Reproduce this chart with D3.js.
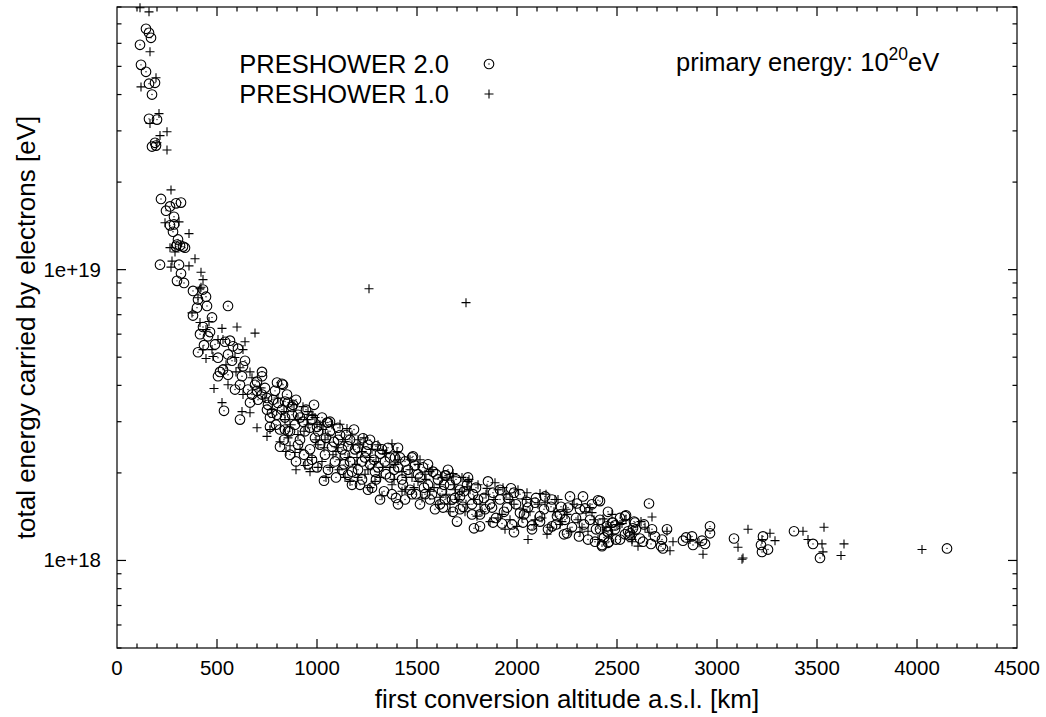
<!DOCTYPE html>
<html>
<head>
<meta charset="utf-8">
<title>PRESHOWER electrons energy</title>
<script src="https://cdn.jsdelivr.net/npm/d3@7/dist/d3.min.js"></script>
<style>
body { margin: 0; background: white; }
svg text { font-family: "Liberation Sans", Arial, sans-serif; fill: black; }
</style>
</head>
<body>
<script>
// [altitude km, energy in units of 1e18 eV]
var EV_UNIT = 1e18;

var pre2Points = [
  [145,67.3],[160,65.2],[170,62.7],[115,59.3],[120,50.6],[145,47.9],[160,43.6],[190,43.9],[175,40.0],[160,33.0],[200,32.8],
  [175,26.5],[195,26.7],[190,27.3],[220,17.5],[265,16.5],[320,17.0],[295,16.9],[245,15.95],[285,15.2],[265,14.2],[285,14.3],
  [280,13.5],[305,12.7],[295,12.0],[330,12.0],[315,12.1],[215,10.4],[310,10.4],[320,9.7],[300,9.15],[335,9.0],
  [300,12.2],[340,11.9],[380,8.45],[430,8.54],[405,7.89],[445,8.07],[400,7.4],[450,7.5],[380,6.95],[475,6.85],[555,7.5],
  [430,6.35],[455,5.9],[435,5.5],[405,5.2],[540,5.65],[565,5.7],[580,5.45],[605,5.35],[515,4.45],[505,4.3],[555,4.35],
  [530,4.53],[625,4.3],[630,4.65],[615,4.02],[725,4.45],[725,4.3],[700,4.12],[740,3.92],[800,4.09],[825,4.05],[675,3.72],
  [665,3.49],[700,3.83],[750,3.62],[780,3.57],[805,3.48],[840,3.52],[880,3.43],[875,3.37],[535,3.27],[615,3.05],[750,3.30],
  [775,3.22],[800,3.17],[840,3.1],[905,3.17],[930,3.0],[1050,2.98],[765,2.88],[815,2.82],[855,2.78],[1000,2.88],[1065,2.78],
  [1115,2.7],[1230,2.63],[830,4.02],[855,3.49],[1055,2.98],[1295,2.47],[1390,2.26],[1480,2.28],[1490,2.12],[1645,1.96],
  [1580,2.02],[1035,1.88],[955,2.14],[1000,2.09],[1175,1.82],[1105,2.6],[1155,2.47],[815,2.46],
  [890,2.93],[915,2.60],[940,2.78],[965,2.41],[990,2.64],[1015,2.50],[975,3.05],[1040,2.31],[1075,2.46],[1140,2.31],
  [1165,2.19],[1190,2.41],[1205,2.05],[1240,2.26],[1265,2.14],[1290,2.02],[1315,2.33],[1340,2.19],[1365,1.93],[1405,2.09],
  [1425,1.90],[1440,2.19],[1465,1.75],[1505,1.98],[1530,2.09],[1555,1.82],[1605,1.90],[1625,1.73],[1665,1.82],[1690,1.64],
  [1715,1.75],[1090,2.19],[1125,2.05],[1225,1.90],[1275,1.78],[1375,1.69],[1355,2.44],[865,2.31],[895,2.19],[840,2.82],
  [1255,2.50],[1415,2.26],[1155,1.97],
  [1640,1.96],[1700,1.36],[1970,1.77],[1985,1.71],[2050,1.59],[2090,1.58],[2170,1.53],[2220,1.53],[2300,1.57],[2330,1.66],
  [2405,1.61],[2340,1.51],[2480,1.35],[2540,1.42],[2590,1.35],[2455,1.25],[2390,1.16],[2425,1.12],[2455,1.15],[2250,1.24],
  [2310,1.21],[2175,1.31],[2200,1.42],[2115,1.42],[2075,1.32],[1985,1.25],[2030,1.35],[1925,1.34],[1880,1.35],[1815,1.31],
  [1785,1.29],[1775,1.44],[1840,1.50],[1730,1.53],[1680,1.47],[1630,1.52],[1715,1.66],[1780,1.69],[1880,1.71],[1915,1.62],
  [1950,1.52],[2015,1.46],[2565,1.21],[2555,1.26],[1865,1.56],[1750,1.82],[1805,1.62],[1565,1.62],[1515,1.56],[1540,1.69],
  [1590,1.50],[1640,1.62],[1475,1.69],[1440,1.62],[1405,1.56],[1315,1.62],[2140,1.66],[2240,1.38],[2365,1.38],[2415,1.28],
  [2490,1.28],[2515,1.18],[2265,1.66],
  [2415,1.60],[2660,1.57],[2545,1.43],[2585,1.36],[2475,1.35],[2450,1.31],[2490,1.32],[2450,1.26],[2540,1.23],[2565,1.24],
  [2580,1.29],[2460,1.16],[2425,1.13],[2615,1.19],[2630,1.16],[2690,1.21],[2670,1.14],[2725,1.18],[2720,1.12],[2730,1.10],
  [2750,1.28],[2830,1.17],[2845,1.20],[2875,1.21],[2880,1.13],[2925,1.17],[2940,1.14],[2965,1.31],[2965,1.24],[3085,1.19],
  [3230,1.21],[3220,1.13],[3225,1.07],[3255,1.09],[3385,1.26],[3480,1.14],[3515,1.02],[4150,1.10],
  [725,3.72],[755,3.43],[790,3.83],[825,3.30],[850,3.72],[875,3.17],[895,3.57],[915,3.10],[945,3.30],[965,2.86],
  [985,3.43],[1005,2.78],[1025,3.10],[1045,2.64],[1065,3.00],[1085,2.56],[1105,2.86],[1125,2.41],[1145,2.70],[1165,2.60],
  [1185,2.82],[1205,2.44],[1225,2.19],[1245,2.37],[1265,2.60],[1285,2.22],[1305,2.09],[1325,2.41],[1345,1.98],[1365,2.26],
  [1385,2.05],[1405,2.44],[1430,1.82],[1455,2.05],[1475,2.26],[1495,1.69],[1515,1.93],[1535,1.78],[1555,2.14],[1575,1.69],
  [1595,1.98],[1615,1.56],[1635,1.82],[1655,2.05],[1675,1.62],[1695,1.90],[1715,1.50],[1735,1.73],[1755,1.93],[1775,1.56],
  [1795,1.78],[1815,1.44],[1835,1.64],[1855,1.87],[1875,1.52],[1895,1.40],[1915,1.75],[1935,1.47],[1955,1.64],[1975,1.33],
  [1995,1.56],[2015,1.69],[2035,1.44],[2055,1.52],[2075,1.28],[2095,1.64],[2115,1.36],[2135,1.50],[2155,1.28],[2175,1.62],
  [2195,1.33],[2215,1.44],[2235,1.23],[2255,1.52],[2275,1.30],[2295,1.40],[2315,1.50],[2335,1.33],[2355,1.18],[2375,1.56],
  [2395,1.28],[2415,1.38],[2435,1.20],[2455,1.47],[2495,1.18],[2515,1.40],[2595,1.28],[2635,1.33],[2675,1.28],
  [765,3.10],[795,2.93],[835,2.60],[865,2.78],[905,2.50],[935,2.31],[975,2.22],[1055,2.05],[1095,1.93],[1135,2.14],
  [1175,2.02],[1215,1.82],[1255,1.75],[1295,1.90],[1335,1.73],[1395,1.64],[690,4.02],[705,3.57],[655,3.87],[640,4.86],
  [590,3.87],[575,4.86],[555,5.11],[490,5.53],[465,6.1],[415,6.0],[505,4.98]
];

var pre1Points = [
  [115,79.5],[160,77.0],[165,56.1],[195,45.7],[120,42.5],[210,34.4],[165,31.8],[250,29.8],[215,28.9],[200,27.3],[250,25.8],
  [270,18.8],[240,14.5],[310,14.6],[360,13.3],[265,11.9],[390,10.9],[270,10.2],[360,10.3],[420,9.8],[430,9.24],[420,8.7],
  [290,11.5],[275,10.7],[415,8.6],[405,8.0],[1260,8.6],[375,7.1],[415,6.58],[460,6.63],[525,6.28],[600,6.35],[690,6.05],
  [530,5.75],[640,5.65],[430,5.31],[475,5.31],[445,4.95],[480,5.03],[590,4.99],[630,5.31],[615,4.6],[665,4.45],[485,3.9],
  [630,3.72],[525,3.49],[665,3.22],[625,3.25],[700,2.86],[930,3.38],[975,3.17],[950,3.05],[990,3.10],[750,2.67],[1150,2.84],
  [1000,2.94],[1030,2.82],[1745,7.7],[955,3.25],[980,3.15],[1115,2.94],[1375,2.52],[1330,2.39],[865,2.48],[890,2.35],
  [940,2.12],[1110,2.05],[1575,2.05],[1680,1.94],[1725,1.93],[1755,1.87],[1750,1.79],
  [840,3.05],[905,2.71],[1005,2.50],[1040,2.60],[1080,2.31],[1105,2.44],[1175,2.50],[1200,2.26],[1225,2.37],[1265,2.26],
  [1305,2.50],[1330,2.09],[1390,2.14],[1425,2.02],[1465,2.22],[1505,1.87],[1540,1.98],[1615,1.82],[1650,1.92],[1690,1.75],
  [1065,2.09],[1140,1.93],[1240,1.98],[1290,1.87],[1375,1.82],[1440,1.75],[1475,1.93],[1565,1.73],[915,2.41],[975,2.26],
  [1025,2.19],[855,2.64],[1205,2.60],[1400,2.37],[1515,2.22],
  [1680,1.99],[1760,1.90],[1890,1.85],[1850,1.77],[1930,1.78],[2115,1.70],[2190,1.62],[2140,1.58],[2365,1.52],[2375,1.46],
  [2430,1.39],[2515,1.33],[2575,1.18],[2150,1.23],[2315,1.25],[2355,1.26],[2000,1.31],[1800,1.42],[2030,1.50],[2250,1.44],
  [1965,1.62],[1815,1.56],[1740,1.47],[1905,1.40],[2090,1.38],[2215,1.33],[2405,1.33],[2475,1.44],[2050,1.71],[1665,1.56],
  [1615,1.65],[2055,1.18],[1940,1.28],
  [2500,1.33],[2525,1.34],[2620,1.36],[2675,1.41],[2575,1.16],[2605,1.12],[2660,1.25],[2750,1.26],[2765,1.08],[2780,1.16],
  [2865,1.18],[2910,1.15],[2930,1.05],[3105,1.11],[3130,1.02],[3125,1.01],[3155,1.28],[3265,1.24],[3290,1.17],[3225,1.18],
  [3430,1.26],[3535,1.30],[3455,1.18],[3525,1.14],[3530,1.07],[3635,1.14],[3620,1.04],[4025,1.09],
  [740,3.62],[775,3.30],[805,3.62],[835,3.25],[865,2.93],[885,3.43],[905,3.05],[935,2.78],[955,2.93],[995,2.60],
  [1015,2.93],[1035,2.44],[1055,2.70],[1075,2.93],[1095,2.37],[1135,2.56],[1155,2.26],[1175,2.70],[1195,2.14],[1215,2.50],
  [1235,2.64],[1255,2.05],[1275,2.41],[1295,2.19],[1315,1.93],[1345,2.33],[1365,2.09],[1385,1.90],[1405,2.22],[1425,1.73],
  [1445,1.93],[1465,2.05],[1485,1.78],[1505,2.14],[1525,1.64],[1545,1.90],[1565,2.02],[1585,1.78],[1605,1.56],[1625,1.93],
  [1645,1.69],[1665,1.47],[1685,1.82],[1705,1.62],[1725,1.73],[1745,1.56],[1765,1.75],[1785,1.62],[1805,1.82],[1825,1.47],
  [1845,1.69],[1865,1.36],[1885,1.62],[1905,1.75],[1925,1.44],[1945,1.69],[1965,1.38],[1985,1.56],[2005,1.75],[2025,1.40],
  [2045,1.62],[2065,1.47],[2085,1.33],[2105,1.56],[2125,1.40],[2145,1.69],[2165,1.30],[2185,1.47],[2205,1.62],[2225,1.36],
  [2245,1.50],[2265,1.26],[2285,1.56],[2305,1.38],[2325,1.30],[2345,1.47],[2385,1.38],[2405,1.18],[2445,1.30],[2475,1.23],
  [2545,1.38],[2585,1.23],[2640,1.30],
  [765,2.82],[815,2.56],[845,2.37],[895,2.05],[965,2.02],[1005,2.09],[1045,1.93],[1115,2.22],[1165,1.87],[1205,1.93],
  [1265,1.78],[1325,1.67],[675,4.25],[715,3.92],[595,4.45],[555,4.02],[545,4.71],[505,5.75],[445,6.22]
];

var xTicks = [0, 500, 1000, 1500, 2000, 2500, 3000, 3500, 4000, 4500];
var yTicks = [1e18, 1e19];
var yTickLabels = ["1e+18", "1e+19"];
var legendLabels = ["PRESHOWER 2.0", "PRESHOWER 1.0"];

var width = 1046, height = 717;
var plotL = 117, plotR = 1017, plotT = 7, plotB = 648;

var x = d3.scaleLinear().domain([0, 4500]).range([plotL, plotR]);
var y = d3.scaleLog().domain([5e17, 8e19]).range([plotB, plotT]);

var svg = d3.select("body").append("svg")
  .attr("width", width)
  .attr("height", height);

var axes = svg.append("g")
  .attr("stroke", "black")
  .attr("stroke-width", 1.2)
  .attr("fill", "none");

// x ticks: major every 500, minor every 100, top and bottom
d3.range(100, 4500, 100).forEach(function(v) {
  var len = v % 500 == 0 ? 9 : 4.5;
  axes.append("line").attr("x1", x(v)).attr("x2", x(v)).attr("y1", plotB).attr("y2", plotB - len);
  axes.append("line").attr("x1", x(v)).attr("x2", x(v)).attr("y1", plotT).attr("y2", plotT + len);
});

// y ticks on log axis, left and right
var yMinor = [];
[1e17, 1e18, 1e19].forEach(function(dec) {
  for (var m = 1; m < 10; m++) {
    var v = m * dec;
    if (v >= 5e17 && v <= 8e19) yMinor.push(v);
  }
});
yMinor.forEach(function(v) {
  var len = yTicks.indexOf(v) >= 0 ? 9 : 4.5;
  axes.append("line").attr("y1", y(v)).attr("y2", y(v)).attr("x1", plotL).attr("x2", plotL + len);
  axes.append("line").attr("y1", y(v)).attr("y2", y(v)).attr("x1", plotR).attr("x2", plotR - len);
});

axes.append("rect")
  .attr("x", plotL).attr("y", plotT)
  .attr("width", plotR - plotL).attr("height", plotB - plotT);

svg.selectAll(".xlab")
  .data(xTicks)
  .enter().append("text")
  .attr("class", "xlab")
  .attr("x", function(d) { return x(d); })
  .attr("y", 675)
  .attr("text-anchor", "middle")
  .attr("font-size", 20.5)
  .text(function(d) { return d; });

svg.selectAll(".ylab")
  .data(yTicks)
  .enter().append("text")
  .attr("class", "ylab")
  .attr("x", 101)
  .attr("y", function(d) { return y(d) + 7; })
  .attr("text-anchor", "end")
  .attr("font-size", 20.5)
  .text(function(d, i) { return yTickLabels[i]; });

svg.append("text")
  .attr("x", (plotL + plotR) / 2)
  .attr("y", 708)
  .attr("text-anchor", "middle")
  .attr("font-size", 26)
  .text("first conversion altitude a.s.l. [km]");

svg.append("text")
  .attr("transform", "translate(35," + ((plotT + plotB) / 2) + ") rotate(-90)")
  .attr("text-anchor", "middle")
  .attr("font-size", 26)
  .text("total energy carried by electrons [eV]");

// annotation
var ann = svg.append("text")
  .attr("x", 676)
  .attr("y", 71)
  .attr("font-size", 25.5);
ann.append("tspan").text("primary energy: 10");
ann.append("tspan").attr("font-size", 17.5).attr("dy", -11).text("20");
ann.append("tspan").attr("dy", 11).text("eV");

// markers
function drawCircle(g, cx, cy) {
  g.append("circle").attr("cx", cx).attr("cy", cy).attr("r", 4.8)
    .attr("fill", "none").attr("stroke", "black").attr("stroke-width", 1.1);
  g.append("circle").attr("cx", cx).attr("cy", cy).attr("r", 0.7).attr("fill", "black");
}
function drawPlus(g, cx, cy) {
  g.append("path")
    .attr("d", "M" + (cx - 4.5) + "," + cy + "h9M" + cx + "," + (cy - 4.5) + "v9")
    .attr("stroke", "black").attr("stroke-width", 1.1).attr("fill", "none");
}

var g2 = svg.append("g").attr("class", "pre2");
pre2Points.forEach(function(d) { drawCircle(g2, x(d[0]), y(d[1] * EV_UNIT)); });

var g1 = svg.append("g").attr("class", "pre1");
pre1Points.forEach(function(d) { drawPlus(g1, x(d[0]), y(d[1] * EV_UNIT)); });

// legend
var legend = svg.append("g");
legend.selectAll("text")
  .data(legendLabels)
  .enter().append("text")
  .attr("x", 449)
  .attr("y", function(d, i) { return 73 + i * 30; })
  .attr("text-anchor", "end")
  .attr("font-size", 25.5)
  .text(function(d) { return d; });
drawCircle(legend, 489, 64);
drawPlus(legend, 489, 94);
</script>
</body>
</html>
